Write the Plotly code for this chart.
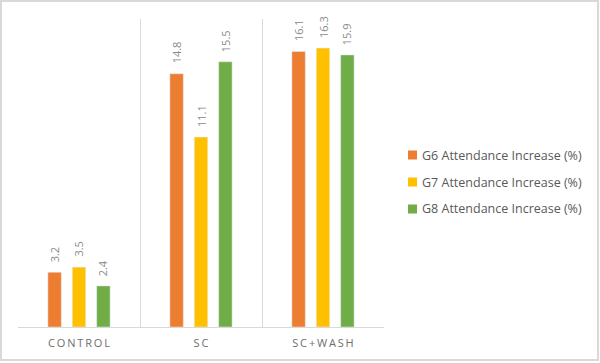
import plotly.graph_objects as go

categories = ["CONTROL", "SC", "SC+WASH"]
g6 = [3.2, 14.8, 16.1]
g7 = [3.5, 11.1, 16.3]
g8 = [2.4, 15.5, 15.9]
series_names = ["G6 Attendance Increase (%)", "G7 Attendance Increase (%)", "G8 Attendance Increase (%)"]
colors = ["#ED7D31", "#FFC000", "#70AD47"]

L, R, T, B = 18, 216, 19, 36
W, H = 600, 363
PW, PH = W - L - R, H - T - B

def px_x(x):
    return (x - L) / PW

def px_y(y):
    return (H - B - y) / PH

def spaced(s):
    return "\u2009".join(list(s))

fig = go.Figure()
bar_w = 0.11
step = 0.2
shapes = [dict(type="rect", xref="paper", yref="paper",
               x0=px_x(1), x1=px_x(598), y0=px_y(360), y1=px_y(1),
               line=dict(color="#d9d9d9", width=2), layer="below")]
legend_rows = [155, 182, 209]
for i, (name, vals, col) in enumerate(zip(series_names, [g6, g7, g8], colors)):
    center = (i - 1) * step
    fig.add_trace(go.Bar(
        x=categories, y=vals, name=name, marker_color=col,
        width=bar_w, offset=center - bar_w / 2,
        showlegend=False, hoverinfo="y",
    ))
    for c, v in zip(categories, vals):
        fig.add_annotation(
            x=c, y=v, text=f"{v:.1f}", textangle=-90, showarrow=False,
            xshift=center * PW / 3, yshift=8, yanchor="bottom", xanchor="center",
            font=dict(family="Open Sans", size=11, color="#8a8a8a"),
        )
    # legend entry
    yr = legend_rows[i]
    shapes.append(dict(type="rect", xref="paper", yref="paper",
                       x0=px_x(408), x1=px_x(417), y0=px_y(yr + 4.5), y1=px_y(yr - 4.5),
                       line=dict(width=0), fillcolor=col))
    fig.add_annotation(
        xref="paper", yref="paper", x=px_x(420), y=px_y(yr), text=name,
        showarrow=False, xanchor="left", yanchor="middle",
        font=dict(family="Open Sans", size=12.5, color="#595959"),
    )

fig.update_layout(
    width=W, height=H,
    margin=dict(l=L, r=R, t=T, b=B, autoexpand=False),
    paper_bgcolor="white", plot_bgcolor="white",
    barmode="overlay",
    showlegend=False,
    xaxis=dict(
        type="category", range=[-0.5, 2.5], automargin=False,
        tickson="boundaries", showgrid=True, gridcolor="#d9d9d9", gridwidth=1,
        showline=True, linecolor="#d9d9d9", ticks="", ticklabelstandoff=6,
        tickvals=categories, ticktext=[spaced(c) for c in categories],
        tickfont=dict(family="Open Sans", size=11, color="#6e6e6e"),
    ),
    yaxis=dict(range=[0, 18], showgrid=False, showticklabels=False, zeroline=False,
               showline=False, automargin=False),
    shapes=shapes,
)

fig.write_html("out.html", config={"displayModeBar": False},
               post_script="document.body.style.margin='0';")
